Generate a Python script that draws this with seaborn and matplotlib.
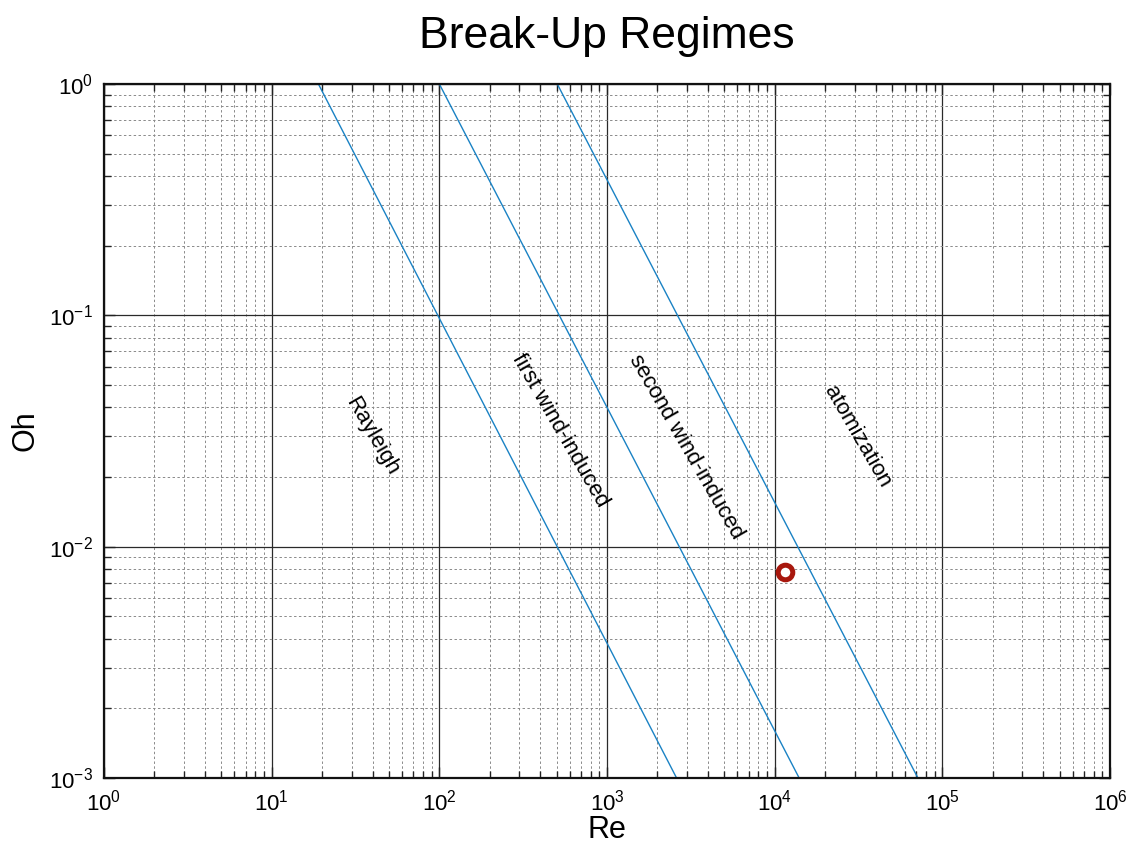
import numpy as np
import pandas as pd
import matplotlib
matplotlib.use("Agg")
import matplotlib.pyplot as plt
import seaborn as sns
from matplotlib.ticker import FixedLocator, NullFormatter

# Regime boundary lines (straight in log-log): Re at Oh=1 and Re at Oh=1e-3
boundary_names = ["b1", "b2", "b3"]
re_at_top = [19.0, 100.0, 505.0]
re_at_bottom = [2600.0, 14000.0, 71500.0]
oh_top = 1.0
oh_bottom = 1e-3

# Operating point
point_re = [11500.0]
point_oh = [0.0078]

# Region labels
region_labels = ["Rayleigh", "first wind-induced", "second wind-induced", "atomization"]
label_re = [39.7, 524.0, 2958.0, 30970.0]
label_oh = [0.0301, 0.0319, 0.0270, 0.0298]

# Axis ticks (decades)
x_exponents = [0, 1, 2, 3, 4, 5, 6]
y_exponents = [-3, -2, -1, 0]

rows = []
for name, r0, r1 in zip(boundary_names, re_at_top, re_at_bottom):
    rows.append({"boundary": name, "Re": r0, "Oh": oh_top})
    rows.append({"boundary": name, "Re": r1, "Oh": oh_bottom})
df = pd.DataFrame(rows)
pt = pd.DataFrame({"Re": point_re, "Oh": point_oh})

sns.set_theme(style="white")
plt.rcParams["font.family"] = ["Liberation Sans", "DejaVu Sans"]
plt.rcParams["mathtext.default"] = "regular"
plt.rcParams["text.color"] = "black"
plt.rcParams["axes.labelcolor"] = "black"

fig = plt.figure(figsize=(11.34, 8.48), dpi=100)
ax = fig.add_axes([104/1134, 1-778/848, (1110-104)/1134, (778-84)/848])
ax.set_xscale("log")
ax.set_yscale("log")

line_color = "#1a82c4"
sns.lineplot(data=df, x="Re", y="Oh", units="boundary", estimator=None,
             color=line_color, linewidth=1.0, ax=ax, legend=False)
ax.plot(pt["Re"], pt["Oh"], linestyle="none", marker="o", markersize=10.5,
        markerfacecolor="white", markeredgecolor="#a8180e", markeredgewidth=3.6, zorder=5)

ax.set_xlim(1, 1e6)
ax.set_ylim(1e-3, 1)

xmaj = [10.0 ** e for e in x_exponents]
ymaj = [10.0 ** e for e in y_exponents]
xmin = [m * 10.0 ** e for e in x_exponents[:-1] for m in range(2, 10)]
ymin = [m * 10.0 ** e for e in y_exponents[:-1] for m in range(2, 10)]
ax.xaxis.set_major_locator(FixedLocator(xmaj))
ax.yaxis.set_major_locator(FixedLocator(ymaj))
ax.xaxis.set_minor_locator(FixedLocator(xmin))
ax.yaxis.set_minor_locator(FixedLocator(ymin))
ax.set_xticklabels([f"$10^{{{e}}}$" for e in x_exponents])
ax.set_yticklabels([f"$10^{{{e}}}$" for e in y_exponents])
ax.xaxis.set_minor_formatter(NullFormatter())
ax.yaxis.set_minor_formatter(NullFormatter())

ax.grid(True, which="major", color="#2a2a2a", linestyle="-", linewidth=0.9)
ax.grid(True, which="minor", color="#8a8a8a", linestyle=(0, (2.5, 2.5)), linewidth=0.7)
ax.set_axisbelow(True)

ax.tick_params(which="both", direction="in", top=True, right=True, bottom=True, left=True,
               colors="#222222", labelcolor="black")
ax.tick_params(which="major", length=8, width=1.0, labelsize=16, pad=8)
ax.tick_params(which="minor", length=5, width=1.0)
for s in ax.spines.values():
    s.set_linewidth(1.6)
    s.set_color("#111111")

ax.set_xlabel("Re", fontsize=22, labelpad=0, color="black")
ax.set_ylabel("Oh", fontsize=22, labelpad=6, color="black")
ax.set_title("Break-Up Regimes", fontsize=32, pad=26, color="black")

for txt, xr, yo in zip(region_labels, label_re, label_oh):
    ax.text(xr, yo, txt, rotation=-60, ha="center", va="center", fontsize=16,
            rotation_mode="anchor", color="black")

fig.savefig("out.png", dpi=100)
